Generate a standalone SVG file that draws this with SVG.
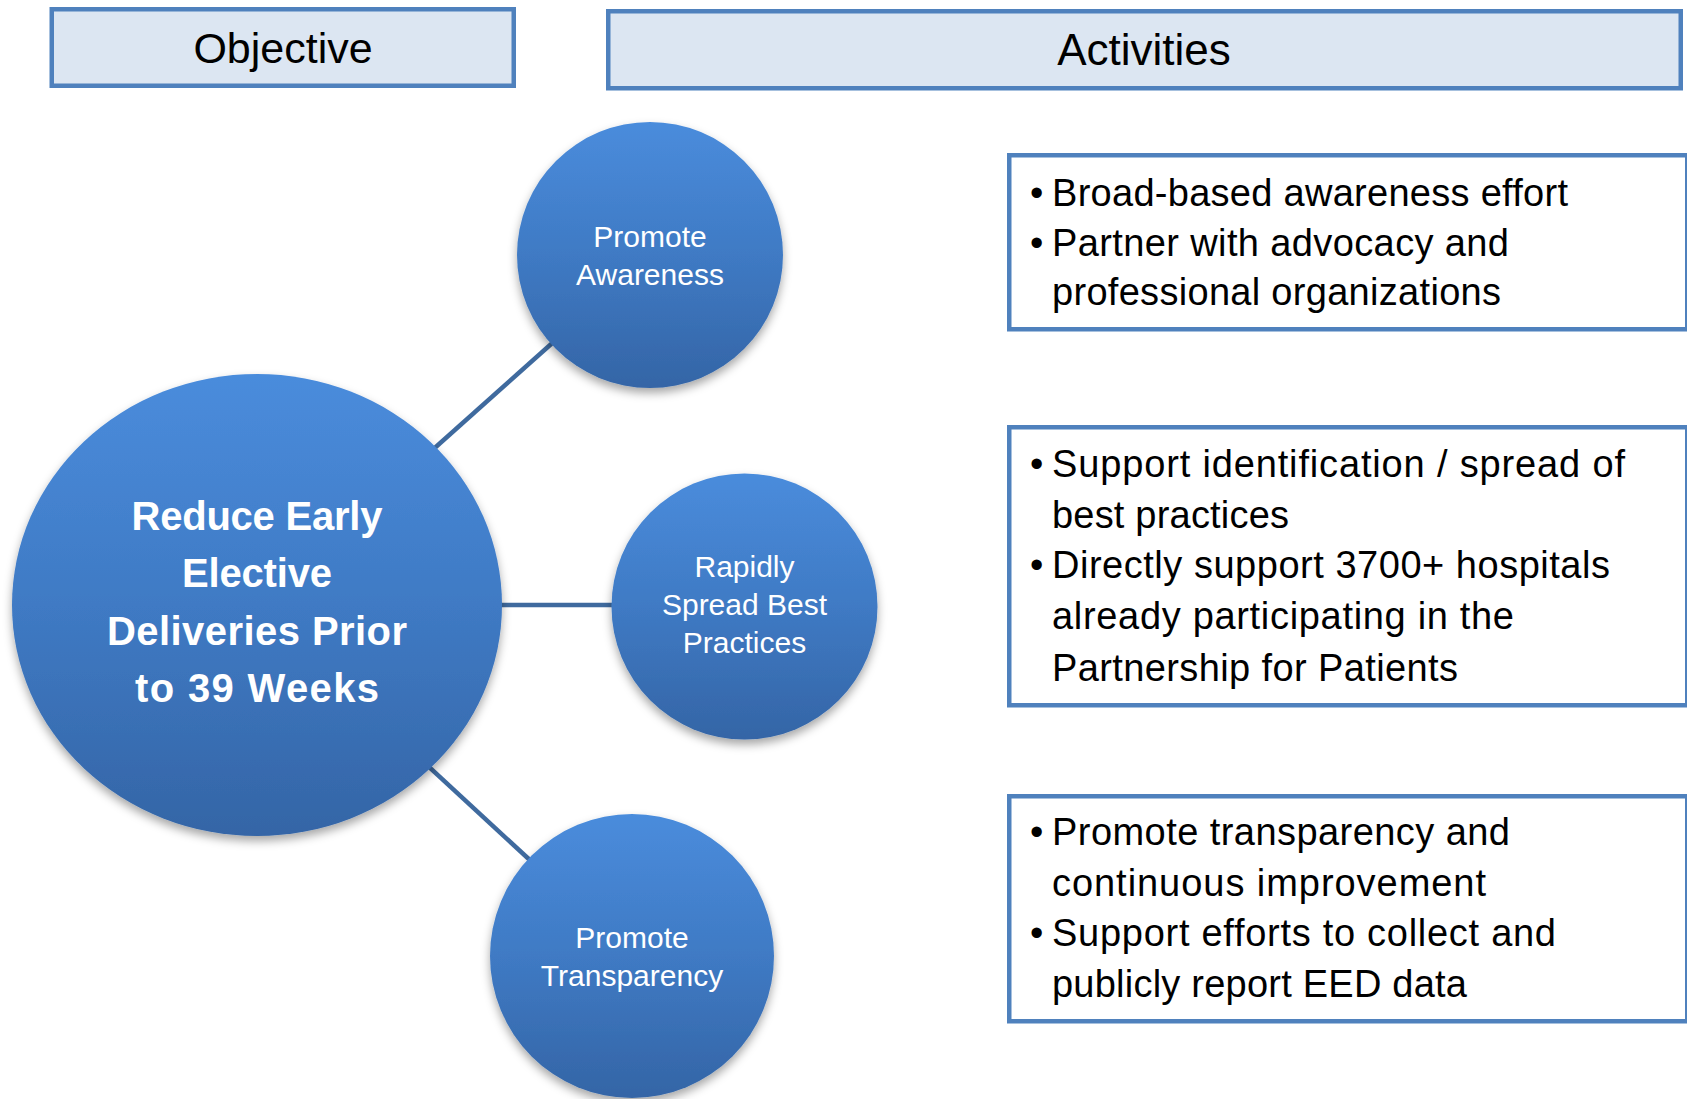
<svg xmlns="http://www.w3.org/2000/svg" width="1687" height="1099" viewBox="0 0 1687 1099">
<style>
.hdr{fill:#DCE6F2;stroke:#4F81BD;stroke-width:4.5}
.box{fill:#FFFFFF;stroke:#4F81BD;stroke-width:4.5}
.conn{stroke:#3F6A9E;stroke-width:4.5;fill:none}
.ht{font-family:"Liberation Sans",Arial,sans-serif;fill:#000;text-anchor:middle}
.bt{font-family:"Liberation Sans",Arial,sans-serif;font-size:38px;fill:#000}
.ct{font-family:"Liberation Sans",Arial,sans-serif;font-size:30px;fill:#FFFFFF;text-anchor:middle}
.big{font-family:"Liberation Sans",Arial,sans-serif;font-size:40px;font-weight:bold;fill:#FFFFFF;text-anchor:middle}
.node{fill:url(#g);filter:url(#sh)}
</style>
<defs>
<linearGradient id="g" x1="0" y1="0" x2="0" y2="1">
<stop offset="0" stop-color="#4A8CDC"/>
<stop offset="0.5" stop-color="#3F7AC4"/>
<stop offset="1" stop-color="#3465A6"/>
</linearGradient>
<filter id="sh" x="-20%" y="-20%" width="140%" height="140%">
<feDropShadow dx="0" dy="5" stdDeviation="5" flood-color="#000" flood-opacity="0.35"/>
</filter>
</defs>
<g id="header-objective">
<rect class="hdr" x="51.75" y="9.25" width="462" height="76.5"/>
<text class="ht" x="283" y="63" font-size="43">Objective</text>
</g>
<g id="header-activities">
<rect class="hdr" x="608.25" y="11.25" width="1072.5" height="77"/>
<text class="ht" x="1144" y="65" font-size="44">Activities</text>
</g>
<g id="connectors">
<line class="conn" x1="419" y1="462" x2="568" y2="329"/>
<line class="conn" x1="490" y1="605" x2="620" y2="605"/>
<line class="conn" x1="415" y1="754" x2="545" y2="874"/>
</g>
<g id="node-objective">
<ellipse class="node" cx="257" cy="605" rx="245" ry="231"/>
<text class="big" x="257" y="530" textLength="251">Reduce Early</text>
<text class="big" x="257" y="587" textLength="150">Elective</text>
<text class="big" x="257" y="645" textLength="300">Deliveries Prior</text>
<text class="big" x="257" y="702" textLength="244">to 39 Weeks</text>
</g>
<g id="node-awareness">
<circle class="node" cx="650" cy="255" r="133"/>
<text class="ct" x="650" y="247">Promote</text>
<text class="ct" x="650" y="285">Awareness</text>
</g>
<g id="node-spread">
<circle class="node" cx="744.5" cy="606.5" r="133"/>
<text class="ct" x="744.5" y="577">Rapidly</text>
<text class="ct" x="744.5" y="615">Spread Best</text>
<text class="ct" x="744.5" y="653">Practices</text>
</g>
<g id="node-transparency">
<circle class="node" cx="632" cy="956" r="142"/>
<text class="ct" x="632" y="948">Promote</text>
<text class="ct" x="632" y="986">Transparency</text>
</g>
<g id="activities-awareness">
<rect class="box" x="1009.25" y="155.25" width="678" height="174"/>
<text class="bt" x="1030" y="206">•</text>
<text class="bt" x="1052" y="206" textLength="516">Broad-based awareness effort</text>
<text class="bt" x="1030" y="256">•</text>
<text class="bt" x="1052" y="256" textLength="457">Partner with advocacy and</text>
<text class="bt" x="1052" y="305" textLength="449">professional organizations</text>
</g>
<g id="activities-spread">
<rect class="box" x="1009.25" y="427.25" width="678" height="278"/>
<text class="bt" x="1030" y="477">•</text>
<text class="bt" x="1052" y="477" textLength="573">Support identification / spread of</text>
<text class="bt" x="1052" y="528" textLength="237">best practices</text>
<text class="bt" x="1030" y="578">•</text>
<text class="bt" x="1052" y="578" textLength="558">Directly support 3700+ hospitals</text>
<text class="bt" x="1052" y="629" textLength="462">already participating in the</text>
<text class="bt" x="1052" y="681" textLength="406">Partnership for Patients</text>
</g>
<g id="activities-transparency">
<rect class="box" x="1009.25" y="796.25" width="678" height="225"/>
<text class="bt" x="1030" y="845">•</text>
<text class="bt" x="1052" y="845" textLength="458">Promote transparency and</text>
<text class="bt" x="1052" y="896" textLength="434">continuous improvement</text>
<text class="bt" x="1030" y="946">•</text>
<text class="bt" x="1052" y="946" textLength="504">Support efforts to collect and</text>
<text class="bt" x="1052" y="997" textLength="415">publicly report EED data</text>
</g>
</svg>
